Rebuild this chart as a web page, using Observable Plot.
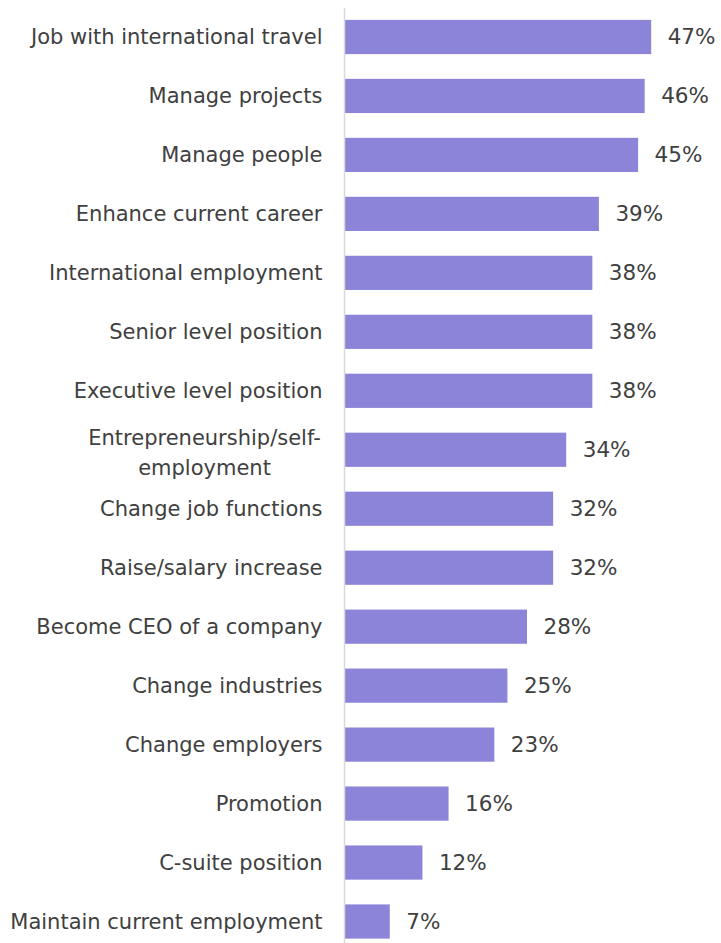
<!DOCTYPE html>
<html>
<head>
<meta charset="utf-8">
<script src="https://cdn.jsdelivr.net/npm/d3@7"></script>
<script src="https://cdn.jsdelivr.net/npm/@observablehq/plot@0.6"></script>
<style>
  html, body { margin: 0; padding: 0; background: #fff; }
  #chart svg { display: block; }
</style>
</head>
<body>
<div id="chart"></div>
<script>
const categories = [
  "Job with international travel",
  "Manage projects",
  "Manage people",
  "Enhance current career",
  "International employment",
  "Senior level position",
  "Executive level position",
  "Entrepreneurship/self-employment",
  "Change job functions",
  "Raise/salary increase",
  "Become CEO of a company",
  "Change industries",
  "Change employers",
  "Promotion",
  "C-suite position",
  "Maintain current employment"
];
const values = [47, 46, 45, 39, 38, 38, 38, 34, 32, 32, 28, 25, 23, 16, 12, 7];
const wrapped = { "Entrepreneurship/self-employment": "Entrepreneurship/self-\nemployment" };

const data = categories.map((c, i) => ({ label: c, value: values[i] }));
const font = "'DejaVu Sans', Verdana, sans-serif";
const textColor = "#404040";

const chart = Plot.plot({
  width: 721,
  height: 943,
  marginLeft: 344,
  marginRight: 11,
  marginTop: 8,
  marginBottom: 0,
  style: { fontFamily: font, background: "#fff" },
  x: { domain: [0, 56], axis: null },
  y: { domain: categories, range: [7.5, 951], paddingInner: 0.42, paddingOuter: 0.21, round: false, axis: null },
  marks: [
    Plot.barX(data, { x: "value", y: "label", fill: "#8B84D8", insetLeft: 1 }),
    Plot.ruleX([0], { stroke: "#d9d9d9", strokeWidth: 1.5 }),
    Plot.text(data.filter(d => !wrapped[d.label]), {
      x: 0, y: "label", text: "label", textAnchor: "end", dx: -22,
      fontSize: 21, fill: textColor
    }),
    Plot.text(data.filter(d => wrapped[d.label]), {
      x: 0, y: "label", text: d => wrapped[d.label], textAnchor: "middle", dx: -140,
      fontSize: 21, lineHeight: 1.43, fill: textColor
    }),
    Plot.text(data, {
      x: "value", y: "label", text: d => d.value + "%", textAnchor: "start", dx: 16,
      fontSize: 21.5, fill: textColor
    })
  ]
});
document.getElementById("chart").appendChild(chart);
</script>
</body>
</html>
